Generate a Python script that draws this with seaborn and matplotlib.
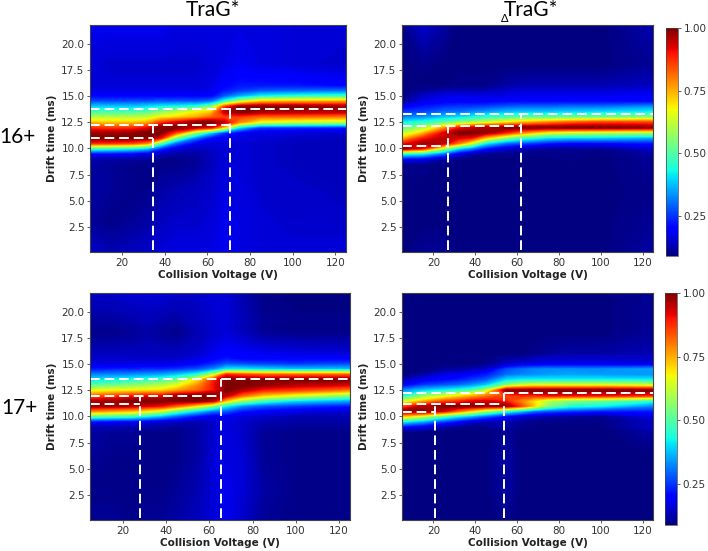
import matplotlib
matplotlib.use("Agg")
import matplotlib.pyplot as plt
import numpy as np
import seaborn as sns

# Data
voltage = [5, 15, 25, 32, 38, 45, 55, 62, 68, 75, 85, 100, 125]
drift = [0.1, 3, 6, 8.5, 9, 9.5, 10, 10.5, 11, 11.5, 12, 12.5, 13, 13.5, 14, 14.5, 15, 15.5, 16, 18, 21.8]
cbar_ticks = [0.25, 0.50, 0.75, 1.00]

# one profile per voltage, bottom to top along drift
trag_16 = [
    [.15, .11, .12, .12, .13, .20, .48, .88, 1.0, .97, .86, .72, .60, .48, .38, .27, .20, .17, .16, .16, .18],
    [.13, .10, .11, .11, .12, .20, .46, .87, 1.0, .97, .85, .72, .60, .48, .38, .27, .20, .17, .16, .15, .18],
    [.14, .11, .10, .10, .12, .19, .43, .85, 1.0, .98, .86, .72, .60, .48, .38, .27, .20, .17, .16, .15, .18],
    [.15, .12, .10, .10, .11, .17, .38, .78, 1.0, 1.0, .90, .74, .62, .50, .40, .27, .20, .17, .16, .15, .18],
    [.16, .14, .12, .10, .10, .14, .25, .50, .90, 1.0, 1.0, .85, .68, .55, .42, .28, .20, .17, .16, .15, .18],
    [.17, .15, .13, .10, .10, .12, .17, .30, .55, .85, 1.0, .92, .70, .60, .43, .28, .20, .17, .16, .15, .17],
    [.17, .15, .14, .11, .11, .12, .14, .18, .30, .55, .95, 1.0, .75, .68, .45, .28, .20, .17, .16, .15, .17],
    [.17, .16, .15, .14, .14, .14, .15, .16, .20, .38, .90, 1.0, .82, .72, .55, .30, .20, .18, .17, .16, .17],
    [.18, .18, .17, .16, .16, .16, .16, .17, .18, .25, .70, .95, .85, .95, .85, .45, .28, .22, .20, .17, .17],
    [.17, .17, .17, .16, .16, .16, .16, .16, .17, .19, .40, .78, .85, 1.0, 1.0, .60, .35, .25, .22, .18, .17],
    [.16, .16, .15, .15, .15, .15, .15, .15, .16, .17, .25, .65, .80, .97, 1.0, .72, .42, .28, .22, .17, .17],
    [.16, .15, .15, .14, .14, .14, .14, .14, .15, .16, .24, .62, .80, .96, 1.0, .74, .45, .29, .22, .16, .16],
    [.16, .15, .14, .14, .14, .14, .14, .14, .14, .15, .22, .60, .78, .95, .98, .75, .47, .30, .20, .15, .16],
]
dtrag_16 = [
    [.09, .09, .09, .10, .20, .45, 1.0, .88, .72, .60, .50, .42, .32, .25, .18, .10, .09, .09, .09, .09, .10],
    [.11, .09, .09, .10, .18, .42, .90, .97, .88, .72, .58, .45, .33, .26, .22, .17, .15, .11, .09, .10, .15],
    [.11, .09, .09, .09, .12, .30, .60, .95, .95, .92, .75, .50, .38, .30, .24, .19, .17, .13, .09, .09, .12],
    [.09, .09, .09, .09, .10, .17, .40, .80, .92, 1.0, .88, .55, .40, .30, .25, .19, .18, .13, .10, .09, .09],
    [.09, .09, .09, .09, .09, .13, .32, .65, .90, 1.0, .93, .58, .42, .32, .25, .19, .17, .13, .10, .09, .09],
    [.09, .09, .09, .09, .09, .10, .22, .42, .72, .98, .97, .62, .45, .34, .26, .19, .17, .13, .10, .09, .09],
    [.09, .09, .09, .09, .09, .10, .15, .30, .55, .88, 1.0, .68, .48, .37, .28, .20, .17, .15, .12, .09, .09],
    [.09, .09, .09, .09, .09, .10, .13, .27, .47, .78, 1.0, .72, .50, .38, .29, .20, .18, .16, .13, .09, .09],
    [.09, .09, .09, .09, .09, .10, .12, .25, .44, .72, 1.0, .75, .50, .38, .29, .20, .18, .16, .13, .09, .09],
    [.09, .09, .09, .09, .09, .10, .11, .22, .40, .65, 1.0, .78, .50, .38, .29, .20, .18, .16, .13, .09, .09],
    [.09, .09, .09, .09, .10, .10, .11, .20, .38, .62, 1.0, .82, .51, .39, .30, .20, .18, .16, .13, .09, .09],
    [.09, .09, .09, .09, .09, .09, .11, .20, .38, .60, 1.0, .85, .52, .40, .30, .20, .18, .16, .13, .09, .09],
    [.12, .11, .10, .11, .11, .12, .15, .22, .35, .58, .98, .85, .55, .42, .33, .20, .19, .17, .14, .11, .13],
]
trag_17 = [
    [.11, .10, .11, .12, .13, .20, .50, .78, .98, .95, .80, .65, .50, .40, .32, .22, .17, .15, .14, .10, .15],
    [.11, .10, .10, .11, .13, .19, .47, .75, .97, .97, .84, .67, .52, .42, .32, .23, .17, .15, .14, .10, .15],
    [.10, .10, .10, .11, .13, .18, .45, .72, .95, 1.0, .88, .68, .55, .44, .33, .23, .17, .15, .14, .11, .16],
    [.11, .10, .10, .10, .12, .16, .40, .67, .92, 1.0, .90, .69, .58, .46, .34, .24, .17, .15, .14, .12, .16],
    [.11, .10, .10, .10, .12, .15, .35, .62, .90, 1.0, .90, .70, .60, .48, .35, .24, .17, .15, .14, .11, .16],
    [.12, .11, .10, .10, .11, .14, .28, .50, .82, 1.0, .98, .75, .65, .52, .38, .25, .18, .15, .14, .10, .15],
    [.14, .13, .12, .12, .12, .13, .20, .38, .68, 1.0, 1.0, .82, .78, .70, .45, .28, .20, .17, .15, .13, .15],
    [.16, .16, .16, .15, .15, .15, .17, .30, .55, .95, 1.0, .90, .90, .88, .62, .33, .24, .20, .18, .15, .16],
    [.18, .18, .17, .17, .17, .17, .18, .28, .42, .72, .95, 1.0, 1.0, 1.0, .88, .42, .28, .22, .20, .16, .16],
    [.15, .16, .16, .15, .15, .15, .16, .22, .33, .58, .82, .95, 1.0, 1.0, .85, .42, .27, .20, .19, .14, .13],
    [.11, .12, .11, .11, .12, .13, .15, .19, .28, .48, .72, .88, .98, 1.0, .82, .40, .26, .20, .18, .11, .10],
    [.10, .10, .10, .10, .11, .12, .13, .17, .25, .40, .65, .85, .95, 1.0, .82, .38, .25, .20, .17, .10, .09],
    [.10, .10, .10, .10, .11, .12, .13, .15, .22, .35, .55, .78, .92, 1.0, .82, .38, .27, .20, .16, .10, .09],
]
dtrag_17 = [
    [.09, .09, .09, .09, .20, .42, .72, .98, .82, .60, .42, .32, .18, .13, .09, .09, .09, .09, .09, .09, .09],
    [.09, .09, .09, .09, .17, .35, .62, 1.0, .95, .72, .55, .38, .25, .18, .12, .09, .09, .09, .09, .09, .09],
    [.09, .09, .09, .09, .12, .25, .48, .92, 1.0, .82, .62, .42, .28, .20, .17, .11, .09, .09, .09, .09, .09],
    [.09, .09, .09, .09, .10, .20, .40, .80, 1.0, .85, .68, .45, .30, .22, .18, .12, .09, .09, .09, .09, .09],
    [.09, .09, .09, .09, .10, .15, .35, .70, 1.0, .90, .72, .48, .33, .25, .20, .13, .09, .09, .09, .09, .09],
    [.09, .09, .09, .09, .10, .13, .28, .58, .98, .92, .78, .60, .38, .28, .22, .15, .10, .09, .09, .09, .09],
    [.10, .12, .12, .11, .12, .13, .20, .45, .98, .88, .85, 1.0, .55, .40, .30, .27, .14, .12, .09, .09, .09],
    [.09, .09, .09, .09, .10, .11, .15, .38, .85, .78, .88, 1.0, .62, .42, .32, .30, .17, .12, .09, .09, .09],
    [.09, .09, .09, .09, .09, .10, .14, .30, .72, .70, .88, 1.0, .65, .42, .33, .32, .17, .14, .10, .09, .09],
    [.09, .09, .09, .09, .09, .10, .12, .27, .55, .60, .90, 1.0, .65, .42, .34, .33, .18, .15, .11, .09, .09],
    [.09, .09, .09, .09, .09, .10, .11, .25, .45, .55, .90, 1.0, .65, .42, .35, .33, .18, .15, .12, .09, .09],
    [.09, .09, .09, .09, .09, .10, .10, .22, .42, .52, .90, 1.0, .65, .42, .34, .33, .18, .15, .12, .09, .09],
    [.09, .09, .09, .12, .15, .14, .17, .22, .32, .45, .88, 1.0, .62, .42, .33, .35, .17, .15, .13, .11, .11],
]

# dashed guides: conformer drift times and transition voltages
states = [[11.0, 12.2, 13.75], [10.2, 12.1, 13.3], [11.15, 12.0, 13.55], [10.45, 11.15, 12.2]]
transitions = [[34.5, 70.5], [27, 62], [28, 65.5], [21, 54]]

sns.set_theme(style="white")
plt.rcParams["axes.edgecolor"] = "#444444"
plt.rcParams["axes.linewidth"] = 0.8
jet = plt.get_cmap("jet")
levels = np.linspace(0.09, 1.0, 182)

fig = plt.figure(figsize=(7.08, 5.51), dpi=100)
W, H = 708.0, 551.0


def px_axes(left, top, right, bottom):
    return fig.add_axes([left / W, 1 - bottom / H, (right - left) / W, (bottom - top) / H])


boxes = [(90, 25, 346, 252), (402, 25, 653, 252), (90, 293, 350, 520), (402, 293, 653, 520)]
panels = [trag_16, dtrag_16, trag_17, dtrag_17]

for box, profiles, ys, xs in zip(boxes, panels, states, transitions):
    ax = px_axes(*box)
    z = np.array(profiles).T
    ax.contourf(voltage, drift, z, levels=levels, cmap=jet, extend="both", antialiased=False)
    ax.set_xlim(5, 125)
    ax.set_ylim(0.1, 21.8)

    # guides
    ends = xs + [125]
    for y, end in zip(ys, ends):
        ax.plot([5, end], [y, y], color="white", lw=1.4, ls=(0, (5, 2.5)))
    for x, top in zip(xs, ys[1:]):
        ax.plot([x, x], [0.3, top], color="white", lw=1.4, ls=(0, (5, 2.5)))

    ax.set_xticks([20, 40, 60, 80, 100, 120])
    ax.set_yticks([2.5, 5, 7.5, 10, 12.5, 15, 17.5, 20])
    ax.set_yticklabels(["2.5", "5.0", "7.5", "10.0", "12.5", "15.0", "17.5", "20.0"])
    ax.tick_params(labelsize=7.5, labelcolor="#333333", length=2, width=0.6, color="#444444",
                   bottom=True, left=True, pad=2)
    ax.set_xlabel("Collision Voltage (V)", fontsize=7.5, fontweight="bold", color="#222222", labelpad=2)
    ax.set_ylabel("Drift time (ms)", fontsize=7.5, fontweight="bold", color="#222222", labelpad=3)

# colorbars
for box in [(666, 28, 678, 256), (665, 293, 677, 525)]:
    cax = px_axes(*box)
    sm = plt.cm.ScalarMappable(norm=plt.Normalize(0.09, 1.0), cmap=jet)
    cb = fig.colorbar(sm, cax=cax, ticks=cbar_ticks)
    cb.ax.set_yticklabels(["0.25", "0.50", "0.75", "1.00"])
    cb.ax.tick_params(labelsize=7.5, labelcolor="#333333", length=2, width=0.6, color="#444444", right=True, pad=2)
    cb.outline.set_linewidth(0.5)

# slide labels
font = ["Lato", "DejaVu Sans"]
fig.text(213 / W, 1 - 10 / H, "TraG*", fontsize=15, family=font, color="black", ha="center", va="center")
fig.text(531 / W, 1 - 10 / H, "TraG*", fontsize=15, family=font, color="black", ha="center", va="center")
fig.text(505 / W, 1 - 19 / H, "\u0394", fontsize=8, family=font, color="black", ha="center", va="center")
fig.text(17 / W, 1 - 137 / H, "16+", fontsize=15, family=font, color="black", ha="center", va="center")
fig.text(19 / W, 1 - 408 / H, "17+", fontsize=15, family=font, color="black", ha="center", va="center")

fig.savefig("out.png", dpi=100)
plt.close()
